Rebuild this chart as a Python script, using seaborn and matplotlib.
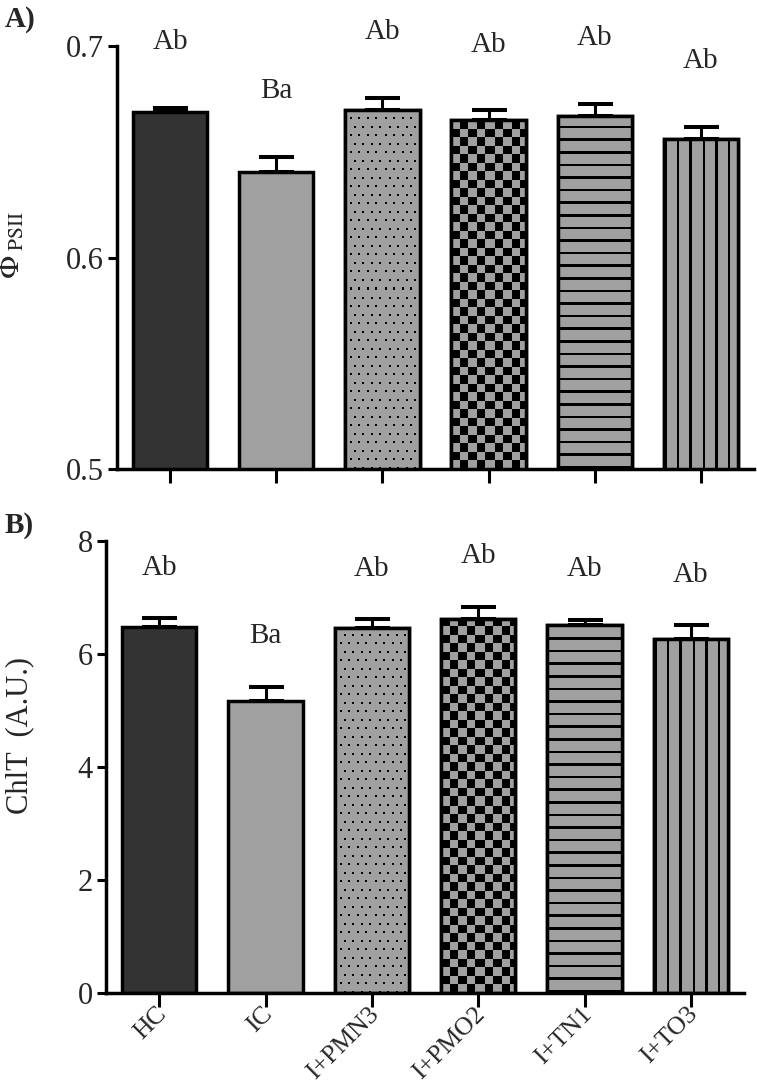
import numpy as np
import pandas as pd
import seaborn as sns
import matplotlib.pyplot as plt
from matplotlib.colors import ListedColormap
from matplotlib.patches import Rectangle
from matplotlib.transforms import ScaledTranslation

# =========================
# Data
# =========================
groups = ["HC", "IC", "I+PMN3", "I+PMO2", "I+TN1", "I+TO3"]

phi_mean = [0.6687, 0.6403, 0.6698, 0.6650, 0.6669, 0.6559]
phi_sem = [0.0022, 0.0074, 0.0058, 0.0047, 0.0057, 0.0058]
phi_letters = ["Ab", "Ba", "Ab", "Ab", "Ab", "Ab"]

chl_mean = [6.48, 5.17, 6.46, 6.62, 6.51, 6.27]
chl_sem = [0.16, 0.25, 0.16, 0.22, 0.10, 0.24]
chl_letters = ["Ab", "Ba", "Ab", "Ab", "Ab", "Ab"]

DARK = "#333333"
GREY = "#a0a0a0"
fills = [DARK, GREY, GREY, GREY, GREY, GREY]
patterns = [None, None, "dots", "checker", "hlines", "vlines"]

sns.set_style("ticks")
plt.rcParams["font.family"] = ["Liberation Serif", "DejaVu Serif"]
plt.rcParams["mathtext.fontset"] = "stix"

FS = 22
LW = 2.5


def pattern(kind, h, w):
    r, c = np.mgrid[0:h, 0:w].astype(float)
    if kind == "dots":
        shift = (np.floor(r / 8.5) % 2) * 4.25
        return ((r % 8.5 < 2) & ((c + shift) % 8.5 < 2)).astype(float)
    if kind == "checker":
        return ((np.floor(r / 8.5) + np.floor(c / 8.5)) % 2).astype(float)
    if kind == "hlines":
        return (r % 12.6 < 2.5).astype(float)
    return (c % 12.5 < 2.5).astype(float)


def draw_panel(ax, mean, sem, letters, ylim, yticks, gap):
    df = pd.DataFrame({"group": groups, "value": mean})
    sns.barplot(data=df, x="group", y="value", hue="group", order=groups,
                palette=fills, legend=False, saturation=1, width=0.7,
                edgecolor="black", linewidth=LW, errorbar=None, zorder=2, ax=ax)
    ax.errorbar(range(len(groups)), mean, yerr=[np.zeros(len(sem)), sem],
                fmt="none", ecolor="black", elinewidth=2.2, capsize=12.6,
                capthick=2.9, zorder=1.5)
    ax.set_xlim(-0.5, len(groups) - 0.5)
    ax.set_ylim(*ylim)
    ax.set_yticks(yticks)

    # patterned fills, clipped to the visible part of the bars
    bars = sorted(ax.patches, key=lambda p: p.get_x())
    for bar, kind in zip(bars, patterns):
        if kind is None:
            continue
        x0 = bar.get_x()
        x1 = x0 + bar.get_width()
        y0 = max(bar.get_y(), ylim[0])
        y1 = bar.get_y() + bar.get_height()
        (px0, py0), (px1, py1) = ax.transData.transform([(x0, y0), (x1, y1)])
        img = pattern(kind, int(round(py1 - py0)), int(round(px1 - px0)))
        ax.imshow(img, cmap=ListedColormap([GREY, "black"]), vmin=0, vmax=1,
                  extent=(x0, x1, y0, y1), origin="lower", aspect="auto",
                  interpolation="nearest", zorder=2.1)
        ax.add_patch(Rectangle((x0, bar.get_y()), x1 - x0, bar.get_height(),
                               fill=False, ec="black", lw=LW, zorder=2.2))
    ax.set_xlim(-0.5, len(groups) - 0.5)
    ax.set_ylim(*ylim)

    for i, (m, s, t) in enumerate(zip(mean, sem, letters)):
        ax.text(i, m + s + gap, t, ha="center", va="center", fontsize=21)

    sns.despine(ax=ax)
    for side in ["left", "bottom"]:
        ax.spines[side].set_linewidth(LW)
        ax.spines[side].set_color("black")
    ax.tick_params(axis="y", length=6.5, width=2.2, labelsize=FS, pad=3,
                   color="black")
    ax.tick_params(axis="x", length=10, width=2.2, labelsize=18.5, pad=5.8,
                   color="black")
    ax.set_xlabel("")


fig = plt.figure(figsize=(7.57, 10.84), dpi=100)
ax_a = fig.add_axes([117 / 757, 1 - 469 / 1084, 637 / 757, 423 / 1084])
ax_b = fig.add_axes([106 / 757, 1 - 993 / 1084, 638 / 757, 452 / 1084])

draw_panel(ax_a, phi_mean, phi_sem, phi_letters, (0.5, 0.7), [0.5, 0.6, 0.7], 0.031)
draw_panel(ax_b, chl_mean, chl_sem, chl_letters, (0, 8), [0, 2, 4, 6, 8], 0.89)

ax_a.set_yticklabels(["0.5", "0.6", "0.7"])
ax_a.tick_params(axis="x", labelbottom=False)
ax_a.set_ylabel(r"$\Phi_{\ \mathrm{PSII}}$", fontsize=FS)
ax_a.yaxis.set_label_coords(-0.141, 0.53)

ax_b.set_xticks(range(len(groups)))
ax_b.set_xticklabels(groups, rotation=45, ha="right", va="baseline",
                     rotation_mode="anchor")
shift = ScaledTranslation(8 / 100, 0, fig.dpi_scale_trans)
for lab in ax_b.get_xticklabels():
    lab.set_transform(lab.get_transform() + shift)
ax_b.set_ylabel("ChlT  (A.U.)", fontsize=FS)
ax_b.yaxis.set_label_coords(-0.113, 0.57)

fig.text(5 / 757, 1 - 6 / 1084, "A)", fontsize=21, fontweight="bold",
         ha="left", va="top")
fig.text(5 / 757, 1 - 512 / 1084, "B)", fontsize=21, fontweight="bold",
         ha="left", va="top")

fig.savefig("out.png", dpi=100)
